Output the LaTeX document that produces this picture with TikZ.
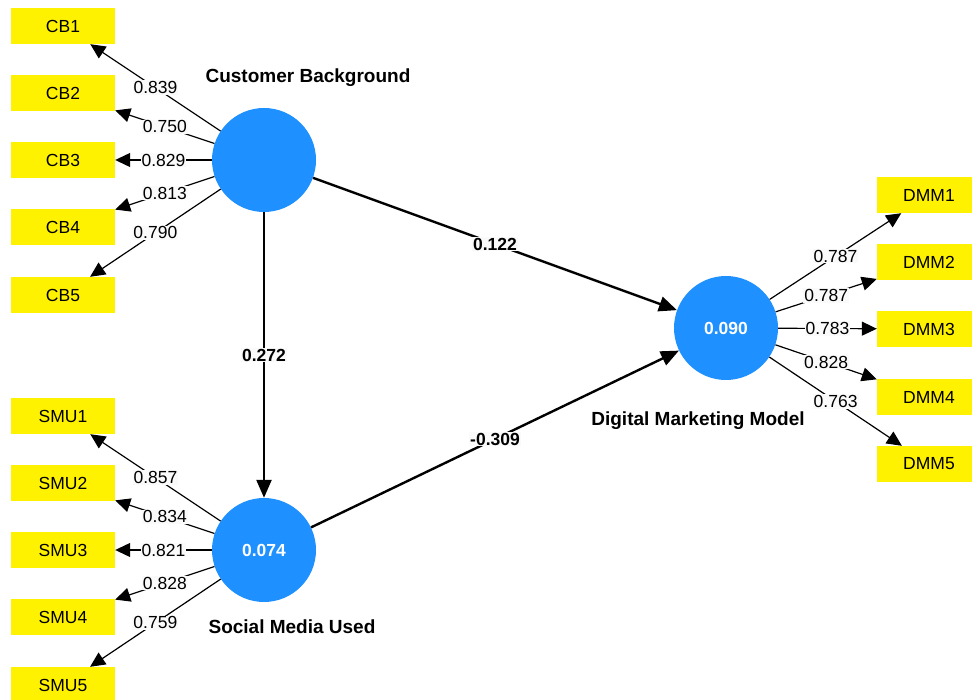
\documentclass[tikz,border=0pt]{standalone}
\usepackage{fontspec}
\setmainfont{Liberation Sans}
\usetikzlibrary{arrows.meta}
\definecolor{lvblue}{RGB}{30,144,255}
\definecolor{lblfill}{RGB}{250,250,250}
\begin{document}
\begin{tikzpicture}[x=1pt,y=-1pt,
 ind/.style={fill=yellow, minimum width=104pt, minimum height=36pt, inner sep=0pt, font=\fontsize{17.5}{20}\selectfont},
 lv/.style={circle, fill=lvblue, minimum size=104pt, inner sep=0pt, text=white, font=\bfseries\fontsize{17.5}{20}\selectfont},
 load/.style={line width=1.2pt, -{Triangle[length=15pt,width=14pt]}},
 pathc/.style={line width=2.4pt, -{Triangle[length=18pt,width=15pt]}},
 ll/.style={fill=lblfill, inner sep=1pt, font=\fontsize{17.5}{20}\selectfont},
 pl/.style={fill=lblfill, inner sep=1pt, font=\bfseries\fontsize{17.5}{20}\selectfont},
 ttl/.style={font=\bfseries\fontsize{19}{22}\selectfont}]
\useasboundingbox (0,0) rectangle (972,700);
% latent variables
\node[lv] (CB) at (264,160) {};
\node[lv] (SMU) at (264,550) {0.074};
\node[lv] (DMM) at (726,328) {0.090};
% titles
\node[ttl] (tCB) at (308,78) {Customer Background};
\node[ttl] (tSMU) at (292,627) {Social Media Used};
\node[ttl] (tDMM) at (698,421) {Digital Marketing Model};
% indicators
\node[ind] (CB1) at (63,26) {CB1};
\node[ind] (CB2) at (63,93) {CB2};
\node[ind] (CB3) at (63,160) {CB3};
\node[ind] (CB4) at (63,227) {CB4};
\node[ind] (CB5) at (63,295) {CB5};
\node[ind] (SMU1) at (63,416) {SMU1};
\node[ind] (SMU2) at (63,483) {SMU2};
\node[ind] (SMU3) at (63,550) {SMU3};
\node[ind] (SMU4) at (63,617) {SMU4};
\node[ind] (SMU5) at (63,685) {SMU5};
\node[ind] (DMM1) at (929,195) {DMM1};
\node[ind] (DMM2) at (929,262) {DMM2};
\node[ind] (DMM3) at (929,329) {DMM3};
\node[ind] (DMM4) at (929,397) {DMM4};
\node[ind] (DMM5) at (929,464) {DMM5};
% loadings
\draw[load] (CB) -- node[ll]{0.839} (CB1);
\draw[load] (CB) -- node[ll]{0.750} (CB2);
\draw[load] (CB) -- node[ll]{0.829} (CB3);
\draw[load] (CB) -- node[ll]{0.813} (CB4);
\draw[load] (CB) -- node[ll]{0.790} (CB5);
\draw[load] (SMU) -- node[ll]{0.857} (SMU1);
\draw[load] (SMU) -- node[ll]{0.834} (SMU2);
\draw[load] (SMU) -- node[ll]{0.821} (SMU3);
\draw[load] (SMU) -- node[ll]{0.828} (SMU4);
\draw[load] (SMU) -- node[ll]{0.759} (SMU5);
\draw[load] (DMM) -- node[ll]{0.787} (DMM1);
\draw[load] (DMM) -- node[ll]{0.787} (DMM2);
\draw[load] (DMM) -- node[ll]{0.783} (DMM3);
\draw[load] (DMM) -- node[ll]{0.828} (DMM4);
\draw[load] (DMM) -- node[ll]{0.763} (DMM5);
% structural paths
\draw[pathc] (CB) -- node[pl]{0.122} (DMM);
\draw[pathc] (CB) -- node[pl]{0.272} (SMU);
\draw[pathc] (SMU) -- node[pl]{-0.309} (DMM);
\end{tikzpicture}
\end{document}
